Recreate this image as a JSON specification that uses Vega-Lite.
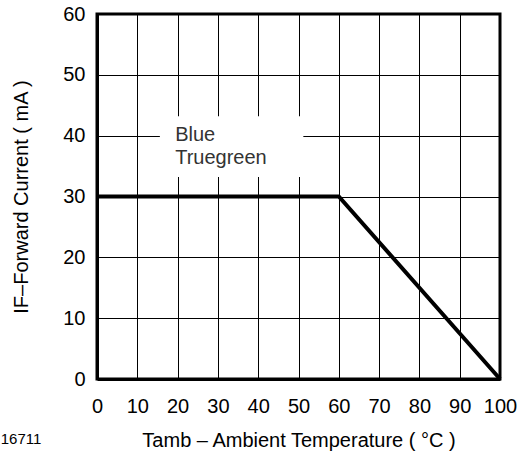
{
  "$schema": "https://vega.github.io/schema/vega-lite/v6.json",
  "autosize": "none",
  "width": 403,
  "height": 365,
  "padding": {"left": 97, "top": 14, "right": 22, "bottom": 82},
  "background": "white",
  "config": {
    "font": "Liberation Sans",
    "view": {"stroke": "black", "strokeWidth": 3},
    "axis": {
      "grid": true, "gridColor": "black", "gridOpacity": 1, "gridWidth": 1,
      "domainColor": "black", "domainWidth": 3,
      "ticks": false, "tickSize": 0,
      "labelOverlap": false, "labelFlush": false, "labelBound": false,
      "labelFont": "Liberation Sans", "labelFontSize": 20, "labelColor": "black",
      "titleFont": "Liberation Sans", "titleFontSize": 20, "titleFontWeight": "normal", "titleColor": "black"
    }
  },
  "title": {
    "text": "16711", "orient": "bottom", "anchor": "start", "frame": "bounds",
    "font": "Liberation Sans", "fontSize": 15, "fontWeight": "normal", "color": "black", "offset": -18, "dx": -11
  },
  "layer": [
    {
      "data": {"values": [{"x0": 15.6, "x1": 51.2, "y0": 33.2, "y1": 43.2}]},
      "mark": {"type": "rect", "color": "white"},
      "encoding": {
        "x": {"field": "x0", "type": "quantitative", "scale": {"domain": [0, 100]},
              "axis": {"values": [0,10,20,30,40,50,60,70,80,90,100], "labelPadding": 17, "titlePadding": 14,
                       "title": "Tamb – Ambient Temperature ( °C )"}},
        "x2": {"field": "x1"},
        "y": {"field": "y0", "type": "quantitative", "scale": {"domain": [0, 60]},
              "axis": {"values": [0,10,20,30,40,50,60], "labelPadding": 12, "titlePadding": 31,
                       "title": "IF–Forward Current ( mA )"}},
        "y2": {"field": "y1"}
      }
    },
    {
      "data": {"values": [
        {"t": 0, "i": 30},
        {"t": 60, "i": 30},
        {"t": 100, "i": 0}
      ]},
      "mark": {"type": "line", "color": "black", "strokeWidth": 4},
      "encoding": {
        "x": {"field": "t", "type": "quantitative"},
        "y": {"field": "i", "type": "quantitative"}
      }
    },
    {
      "data": {"values": [
        {"label": "Blue", "t": 19.4, "i": 39.1},
        {"label": "Truegreen", "t": 19.4, "i": 35.3}
      ]},
      "mark": {"type": "text", "align": "left", "baseline": "alphabetic", "fontSize": 20, "color": "#333333", "font": "Liberation Sans"},
      "encoding": {
        "x": {"field": "t", "type": "quantitative"},
        "y": {"field": "i", "type": "quantitative"},
        "text": {"field": "label"}
      }
    }
  ]
}
